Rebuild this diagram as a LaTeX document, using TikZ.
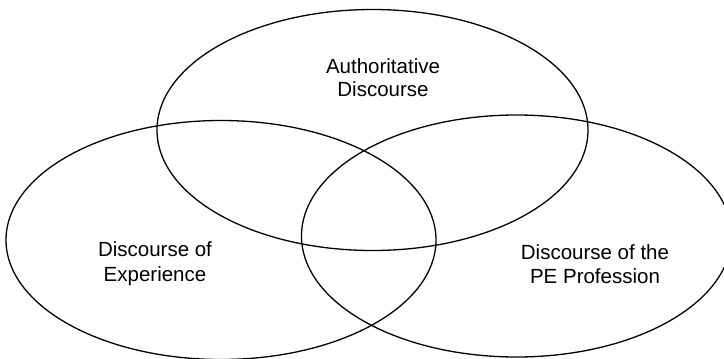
\documentclass[tikz,border=0pt]{standalone}
\usepackage{fontspec}
\setmainfont{Liberation Sans}
\begin{document}
\begin{tikzpicture}[x=1pt,y=-1pt,
  venn/.style={draw=black,line width=1.3pt},
  lbl/.style={anchor=base,inner sep=0pt,font=\fontsize{20.5}{24}\selectfont}]
\useasboundingbox (0,0) rectangle (724,359);
\draw[venn] (372.5,130) ellipse [x radius=215.5, y radius=120.5];
\draw[venn] (221,240) ellipse [x radius=215, y radius=119.5];
\draw[venn] (516.5,236) ellipse [x radius=215, y radius=121];
\node[lbl] (a1) at (383,73.5) {Authoritative};
\node[lbl] (a2) at (383,96) {Discourse};
\node[lbl] (e1) at (155,256) {Discourse of};
\node[lbl] (e2) at (155,281) {Experience};
\node[lbl] (p1) at (595,259) {Discourse of the};
\node[lbl] (p2) at (595,283) {PE Profession};
\end{tikzpicture}
\end{document}
